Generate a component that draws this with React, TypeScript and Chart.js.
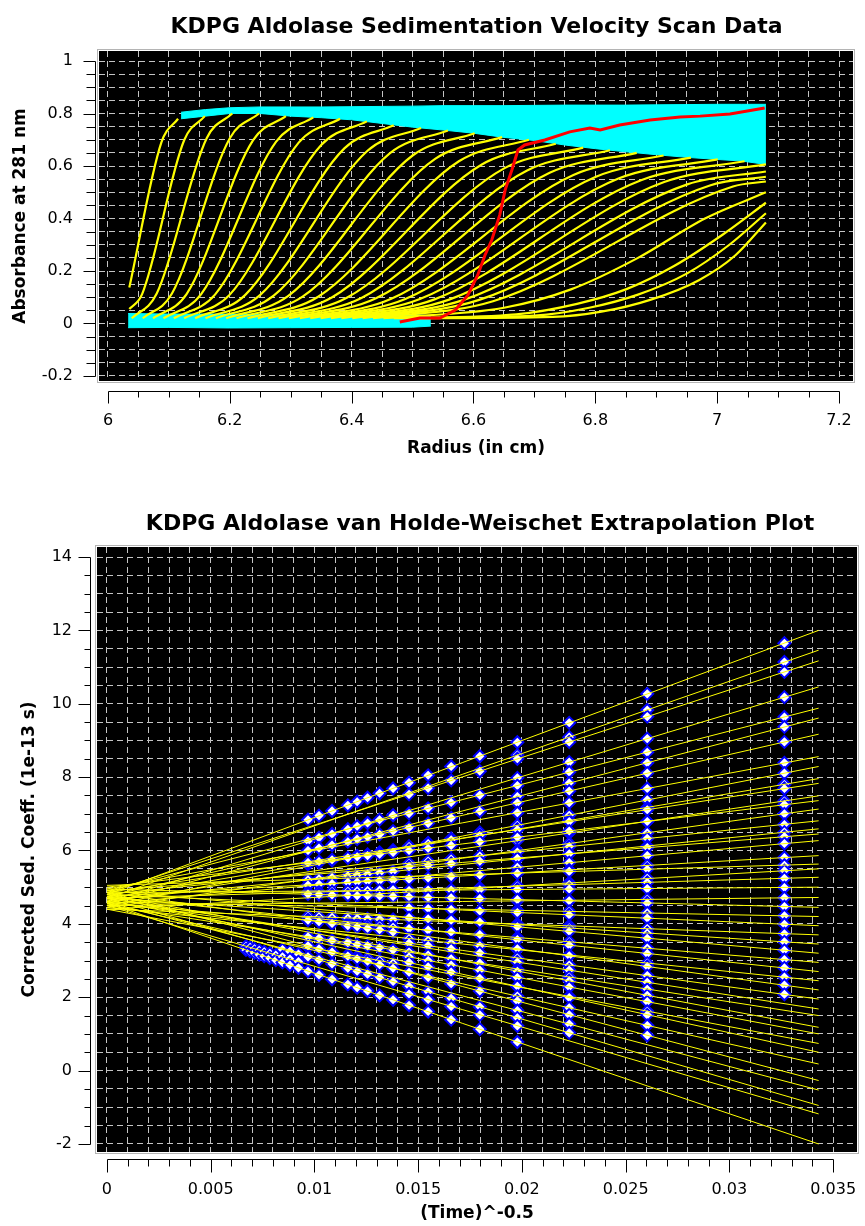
import { useEffect, useRef } from 'react';
import { Chart, registerables } from 'chart.js';

Chart.register(...registerables);

// ---------------- Top chart: sedimentation velocity scans ----------------
const radiusMajorTicks = [6, 6.2, 6.4, 6.6, 6.8, 7, 7.2];
const radiusMajorLabels = ['6', '6.2', '6.4', '6.6', '6.8', '7', '7.2'];
const absorbanceMajorTicks = [-0.2, 0, 0.2, 0.4, 0.6, 0.8, 1];
const absorbanceMajorLabels = ['-0.2', '0', '0.2', '0.4', '0.6', '0.8', '1'];

// each scan: [radius (cm), absorbance] points
const scanProfiles: number[][][] = [
  [[6.035, 0.137], [6.0875, 0.689], [6.115, 0.78]],
  [[6.035, 0.055], [6.056, 0.112], [6.125, 0.698], [6.159, 0.79]],
  [[6.039, 0.02], [6.08, 0.114], [6.162, 0.706], [6.204, 0.8]],
  [[6.057, 0.02], [6.105, 0.114], [6.2, 0.706], [6.248, 0.8]],
  [[6.074, 0.02], [6.129, 0.112], [6.238, 0.698], [6.292, 0.79]],
  [[6.091, 0.02], [6.153, 0.112], [6.276, 0.693], [6.337, 0.785]],
  [[6.108, 0.02], [6.176, 0.111], [6.313, 0.689], [6.381, 0.78]],
  [[6.125, 0.02], [6.2, 0.11], [6.35, 0.68], [6.425, 0.77]],
  [[6.143, 0.02], [6.225, 0.108], [6.388, 0.667], [6.469, 0.755]],
  [[6.16, 0.02], [6.249, 0.107], [6.426, 0.658], [6.514, 0.745]],
  [[6.177, 0.02], [6.272, 0.106], [6.463, 0.649], [6.558, 0.735]],
  [[6.194, 0.02], [6.296, 0.105], [6.5, 0.64], [6.602, 0.725]],
  [[6.211, 0.02], [6.32, 0.103], [6.537, 0.627], [6.647, 0.71]],
  [[6.229, 0.02], [6.345, 0.102], [6.576, 0.618], [6.691, 0.7]],
  [[6.246, 0.02], [6.368, 0.1], [6.613, 0.605], [6.735, 0.685]],
  [[6.263, 0.02], [6.392, 0.098], [6.651, 0.592], [6.78, 0.67]],
  [[6.28, 0.02], [6.416, 0.097], [6.688, 0.583], [6.824, 0.66]],
  [[6.297, 0.02], [6.44, 0.096], [6.725, 0.574], [6.868, 0.65]],
  [[6.315, 0.02], [6.465, 0.094], [6.764, 0.566], [6.912, 0.64]],
  [[6.332, 0.02], [6.488, 0.093], [6.801, 0.559], [6.957, 0.632]],
  [[6.349, 0.02], [6.512, 0.093], [6.838, 0.552], [7.001, 0.625]],
  [[6.366, 0.02], [6.536, 0.092], [6.875, 0.546], [7.045, 0.618]],
  [[6.383, 0.02], [6.56, 0.091], [6.913, 0.539], [7.08, 0.606]],
  [[6.401, 0.02], [6.584, 0.09], [6.951, 0.53], [7.08, 0.579]],
  [[6.418, 0.02], [6.608, 0.089], [6.988, 0.526], [7.08, 0.559]],
  [[6.435, 0.02], [6.632, 0.085], [7.026, 0.522], [7.08, 0.541]],
  [[6.452, 0.02], [6.65, 0.06], [6.76, 0.13], [6.87, 0.25], [6.98, 0.4], [7.08, 0.5]],
  [[6.469, 0.02], [6.67, 0.035], [6.77, 0.075], [6.85, 0.13], [6.93, 0.22], [7.01, 0.34], [7.08, 0.46]],
  [[6.487, 0.02], [6.7, 0.03], [6.79, 0.06], [6.87, 0.11], [6.95, 0.19], [7.02, 0.3], [7.08, 0.42]],
  [[6.504, 0.02], [6.73, 0.025], [6.81, 0.045], [6.89, 0.09], [6.97, 0.165], [7.03, 0.26], [7.08, 0.385]],
];

// excluded plateau data (cyan band at the top)
const plateauBandRadius = [6.12, 6.16, 6.2, 6.25, 6.3, 6.35, 6.4, 6.45, 6.5, 6.55, 6.6, 6.65, 6.7, 6.75, 6.8, 6.85, 6.9, 6.95, 7.0, 7.04, 7.08];
const plateauBandUpper = [0.805, 0.815, 0.822, 0.825, 0.825, 0.825, 0.826, 0.827, 0.828, 0.83, 0.83, 0.83, 0.831, 0.832, 0.832, 0.832, 0.833, 0.834, 0.835, 0.835, 0.835];
const plateauBandLower = [0.78, 0.79, 0.8, 0.8, 0.79, 0.784, 0.776, 0.762, 0.748, 0.737, 0.725, 0.709, 0.697, 0.68, 0.666, 0.654, 0.643, 0.633, 0.625, 0.619, 0.606];

// excluded baseline data (cyan band at the bottom)
const baselineBandRadius = [6.033, 6.1, 6.2, 6.3, 6.4, 6.5, 6.53];
const baselineBandUpper = [0.038, 0.036, 0.036, 0.035, 0.035, 0.034, 0.03];
const baselineBandLower = [-0.016, -0.015, -0.017, -0.016, -0.015, -0.014, -0.01];

// highlighted scan (red)
const highlightRadius = [6.479, 6.512, 6.545, 6.57, 6.591, 6.607, 6.619, 6.63, 6.643, 6.652, 6.663, 6.673, 6.684, 6.717, 6.758, 6.791, 6.808, 6.84, 6.89, 6.939, 6.972, 7.021, 7.078];
const highlightAbsorbance = [0.006, 0.021, 0.021, 0.051, 0.109, 0.185, 0.261, 0.318, 0.413, 0.509, 0.585, 0.661, 0.68, 0.699, 0.73, 0.745, 0.737, 0.756, 0.775, 0.787, 0.79, 0.798, 0.821];

// ---------------- Bottom chart: van Holde-Weischet ----------------
const timeMajorTicks = [0, 0.005, 0.01, 0.015, 0.02, 0.025, 0.03, 0.035];
const timeMajorLabels = ['0', '0.005', '0.01', '0.015', '0.02', '0.025', '0.03', '0.035'];
const sedMajorTicks = [-2, 0, 2, 4, 6, 8, 10, 12, 14];
const sedMajorLabels = ['-2', '0', '2', '4', '6', '8', '10', '12', '14'];

// extrapolation lines: value at x = 0 and at x = fitEndX
const fitEndX = 0.0343;
const fitStartS = [4.8, 4.7, 4.85, 4.6, 4.9, 4.55, 4.75, 4.95, 4.5, 4.7, 4.85, 4.6, 5.0, 4.45, 4.8, 4.65, 4.9, 4.55, 4.75, 5.05, 4.4, 4.7, 4.85, 4.5, 4.95, 4.6, 4.8, 4.4, 4.7, 4.9, 4.55, 4.75, 4.45, 4.85, 4.6, 4.7, 4.5, 4.8, 4.65, 4.4, 4.75, 4.55, 4.85, 4.6, 4.7, 4.5, 4.57];
const fitEndS = [12.0, 11.46, 11.17, 10.46, 9.88, 9.61, 9.17, 8.56, 8.29, 7.96, 7.83, 7.49, 7.36, 7.13, 6.81, 6.59, 6.45, 6.27, 5.86, 5.63, 5.5, 5.27, 5.0, 4.72, 4.45, 4.2, 3.95, 3.7, 3.45, 3.2, 2.95, 2.7, 2.45, 2.2, 1.95, 1.68, 1.5, 1.18, 1.0, 0.74, 0.5, 0.18, -0.27, -0.53, -0.95, -1.18, -2.0];

// scan positions (Time^-0.5) and boundary-fraction sedimentation coefficients
const scanInvSqrtTime = [0.03265, 0.02604, 0.02228, 0.01978, 0.01797, 0.01659, 0.01548, 0.01456, 0.01379, 0.01314, 0.01256, 0.01206, 0.01161, 0.01085, 0.01022, 0.00969, 0.00923, 0.00882, 0.00846, 0.00814, 0.00785, 0.00758, 0.00734, 0.00711, 0.0069, 0.0067];
const scanSedCoeffs: number[][] = [
  [11.65, 11.14, 10.87, 10.18, 9.64, 9.37, 8.96, 8.39, 8.11, 7.8, 7.69, 7.35, 7.25, 7.0, 6.71, 6.5, 6.38, 6.19, 5.81, 5.6, 5.45, 5.24, 4.99, 4.71, 4.47, 4.22, 3.99, 3.73, 3.51, 3.28, 3.03, 2.8, 2.55, 2.33, 2.08],
  [10.27, 9.83, 9.65, 9.05, 8.68, 8.39, 8.11, 7.69, 7.38, 7.17, 7.11, 6.79, 6.79, 6.48, 6.33, 6.12, 6.08, 5.86, 5.59, 5.49, 5.24, 5.13, 4.96, 4.67, 4.57, 4.3, 4.16, 3.87, 3.75, 3.61, 3.34, 3.19, 2.93, 2.84, 2.59, 2.41, 2.22, 2.05, 1.88, 1.62, 1.52, 1.23, 0.96],
  [9.48, 9.09, 8.96, 8.41, 8.14, 7.84, 7.62, 7.3, 6.96, 6.82, 6.79, 6.48, 6.53, 6.19, 6.11, 5.91, 5.91, 5.67, 5.47, 5.43, 5.12, 5.07, 4.95, 4.64, 4.63, 4.34, 4.25, 3.95, 3.89, 3.8, 3.51, 3.42, 3.15, 3.13, 2.88, 2.74, 2.55, 2.45, 2.28, 2.02, 1.99, 1.71, 1.52, 1.27, 1.03],
  [8.95, 8.6, 8.5, 7.98, 7.77, 7.47, 7.3, 7.03, 6.69, 6.58, 6.57, 6.27, 6.36, 6.0, 5.96, 5.77, 5.79, 5.54, 5.39, 5.38, 5.03, 5.03, 4.94, 4.63, 4.66, 4.37, 4.31, 4.0, 3.98, 3.92, 3.63, 3.57, 3.3, 3.32, 3.07, 2.96, 2.77, 2.71, 2.54, 2.29, 2.3, 2.03, 1.9, 1.64, 1.44, 1.22, 0.78],
  [8.57, 8.16, 7.51, 7.07, 6.49, 6.41, 6.24, 5.85, 5.71, 5.33, 4.98, 4.93, 4.69, 4.35, 4.05, 3.71, 3.4, 3.21, 2.93, 2.74, 2.52, 2.17, 1.74, 1.52, 1.13],
  [8.29, 7.91, 7.31, 6.89, 6.33, 6.29, 6.14, 5.77, 5.65, 5.29, 4.93, 4.92, 4.71, 4.39, 4.1, 3.78, 3.48, 3.32, 3.05, 2.88, 2.69, 2.37, 1.97, 1.75, 1.39],
  [8.05, 7.7, 7.15, 6.74, 6.21, 6.19, 6.06, 5.71, 5.6, 5.25, 4.9, 4.92, 4.72, 4.42, 4.14, 3.83, 3.55, 3.41, 3.15, 3.0, 2.83, 2.54, 2.15, 1.94, 1.61],
  [7.85, 7.53, 7.01, 6.62, 6.11, 6.11, 6.0, 5.65, 5.56, 5.22, 4.87, 4.91, 4.74, 4.44, 4.17, 3.87, 3.6, 3.48, 3.23, 3.1, 2.95, 2.68, 2.3, 2.09, 1.78],
  [7.69, 6.96, 6.53, 6.01, 5.95, 5.43, 5.2, 4.93, 4.75, 4.12, 3.91, 3.78, 3.29, 2.93, 2.79, 2.43, 1.93],
  [7.56, 6.84, 6.44, 5.95, 5.9, 5.39, 5.18, 4.92, 4.76, 4.13, 3.94, 3.84, 3.35, 3.0, 2.89, 2.54, 2.05],
  [7.44, 6.75, 6.37, 5.89, 5.86, 5.36, 5.16, 4.91, 4.77, 4.14, 3.96, 3.88, 3.4, 3.06, 2.98, 2.63, 2.17],
  [7.33, 6.66, 6.31, 5.85, 5.83, 5.33, 5.14, 4.9, 4.77, 4.15, 3.99, 3.92, 3.44, 3.11, 3.05, 2.71, 2.26],
  [7.23, 6.58, 6.24, 5.8, 5.8, 5.31, 5.13, 4.89, 4.78, 4.16, 4.01, 3.95, 3.49, 3.16, 3.12, 2.79, 2.35],
  [7.08, 6.45, 6.15, 5.73, 5.75, 5.26, 5.1, 4.88, 4.79, 4.18, 4.04, 4.01, 3.55, 3.24, 3.23, 2.91, 2.49],
  [6.95, 6.35, 6.07, 5.67, 5.7, 5.23, 5.08, 4.87, 4.8, 4.19, 4.07, 4.06, 3.61, 3.31, 3.32, 3.02, 2.61],
  [6.84, 6.26, 6.0, 5.62, 5.67, 5.2, 5.06, 4.86, 4.81, 4.2, 4.1, 4.1, 3.65, 3.36, 3.4, 3.1, 2.71],
  [3.18, 2.97, 2.8],
  [3.25, 3.04, 2.88],
  [3.3, 3.1, 2.95],
  [3.15, 3.01],
  [3.2, 3.07],
  [3.24, 3.12],
  [3.28, 3.16],
  [3.32, 3.21],
  [3.36, 3.25],
  [3.39, 3.29],
];

// ---------------- helpers ----------------
const FONT = "'DejaVu Sans', sans-serif";

function gridValues(start: number, end: number, step: number): number[] {
  const n = Math.round((end - start) / step);
  const out: number[] = [];
  for (let i = 0; i <= n; i++) out.push(+(start + i * step).toFixed(6));
  return out;
}

function labelFor(v: number, majors: number[], labels: string[]): string {
  for (let i = 0; i < majors.length; i++) {
    if (Math.abs(majors[i] - v) < 1e-7) return labels[i];
  }
  return '';
}

const axisDecor = {
  id: 'axisDecor',
  beforeDraw(chart: any) {
    const { ctx, chartArea: a } = chart;
    ctx.save();
    ctx.fillStyle = '#000000';
    ctx.fillRect(a.left, a.top, a.right - a.left, a.bottom - a.top);
    ctx.strokeStyle = '#b4b4b4';
    ctx.lineWidth = 1;
    ctx.strokeRect(Math.round(a.left) - 1.5, Math.round(a.top) - 1.5, Math.round(a.right - a.left) + 3, Math.round(a.bottom - a.top) + 3);
    ctx.restore();
  },
  afterDraw(chart: any, _args: any, opts: any) {
    const { ctx, chartArea: a } = chart;
    const xs = chart.scales.x;
    const ys = chart.scales.y;
    ctx.save();
    // chart heading
    ctx.fillStyle = '#000000';
    ctx.font = `bold 22px ${FONT}`;
    ctx.textAlign = 'center';
    ctx.textBaseline = 'alphabetic';
    ctx.fillText(opts.title, opts.titleX, opts.titleY);
    // detached axis lines with major/minor tick marks
    ctx.strokeStyle = '#000000';
    ctx.lineWidth = 1;
    ctx.beginPath();
    const xt = xs.ticks;
    const yLine = Math.round(a.bottom + opts.xGap) + 0.5;
    const x0 = Math.round(xs.getPixelForValue(xt[0].value)) + 0.5;
    const x1 = Math.round(xs.getPixelForValue(xt[xt.length - 1].value)) + 0.5;
    ctx.moveTo(x0, yLine);
    ctx.lineTo(x1, yLine);
    xt.forEach((t: any) => {
      const px = Math.round(xs.getPixelForValue(t.value)) + 0.5;
      const len = t.label ? opts.xMajor : opts.xMinor;
      ctx.moveTo(px, yLine);
      ctx.lineTo(px, yLine + len);
    });
    const yt = ys.ticks;
    const xLine = Math.round(a.left - opts.yGap) + 0.5;
    const y0 = Math.round(ys.getPixelForValue(yt[0].value)) + 0.5;
    const y1 = Math.round(ys.getPixelForValue(yt[yt.length - 1].value)) + 0.5;
    ctx.moveTo(xLine, y0);
    ctx.lineTo(xLine, y1);
    yt.forEach((t: any) => {
      const py = Math.round(ys.getPixelForValue(t.value)) + 0.5;
      const len = t.label ? opts.yMajor : opts.yMinor;
      ctx.moveTo(xLine, py);
      ctx.lineTo(xLine - len, py);
    });
    ctx.stroke();
    ctx.restore();
  },
};

function axisCommon(gridList: number[], majors: number[], labels: string[], offset: number) {
  return {
    type: 'linear' as const,
    afterBuildTicks: (s: any) => {
      s.ticks = gridList.map((v) => ({ value: v }));
    },
    ticks: {
      autoSkip: false,
      maxRotation: 0,
      minRotation: 0,
      padding: 0,
      color: '#000000',
      font: { family: FONT, size: 16 },
      callback: (v: any) => labelFor(Number(v), majors, labels),
    },
    grid: { color: '#c4c4c4', lineWidth: 1, drawTicks: true, tickLength: offset, tickColor: 'rgba(0,0,0,0)' },
    border: { display: false, dash: [6, 4] },
  };
}

function topConfig(): any {
  const datasets: any[] = [];
  datasets.push({
    data: highlightRadius.map((r, i) => ({ x: r, y: highlightAbsorbance[i] })),
    borderColor: '#ff0000',
    borderWidth: 3,
    pointRadius: 0,
    fill: false,
    order: 0,
  });
  scanProfiles.forEach((scan) => {
    datasets.push({
      data: scan.map((p) => ({ x: p[0], y: p[1] })),
      borderColor: '#ffff00',
      borderWidth: 2.2,
      pointRadius: 0,
      fill: false,
      cubicInterpolationMode: 'monotone',
      order: 1,
    });
  });
  const bands: [number[], number[], number[]][] = [
    [plateauBandRadius, plateauBandUpper, plateauBandLower],
    [baselineBandRadius, baselineBandUpper, baselineBandLower],
  ];
  bands.forEach(([rad, up, lo]) => {
    datasets.push({
      data: rad.map((r, i) => ({ x: r, y: up[i] })),
      borderColor: '#00ffff',
      backgroundColor: '#00ffff',
      borderWidth: 1,
      pointRadius: 0,
      fill: '+1',
      order: 2,
    });
    datasets.push({
      data: rad.map((r, i) => ({ x: r, y: lo[i] })),
      borderColor: '#00ffff',
      borderWidth: 1,
      pointRadius: 0,
      fill: false,
      order: 2,
    });
  });

  const xGrid = gridValues(6, 7.2, 0.05);
  const yGrid = gridValues(-0.2, 1, 0.05);
  return {
    type: 'line',
    data: { datasets },
    options: {
      animation: false,
      responsive: false,
      events: [],
      layout: { padding: { left: 0, right: 12, top: 51, bottom: 0 } },
      elements: { line: { tension: 0 } },
      plugins: {
        legend: { display: false },
        tooltip: { enabled: false },
        title: { display: false },
        axisDecor: {
          title: 'KDPG Aldolase Sedimentation Velocity Scan Data',
          titleX: 476.5,
          titleY: 33,
          xGap: 10,
          yGap: 4,
          xMajor: 12,
          xMinor: 6,
          yMajor: 12,
          yMinor: 9,
        },
      },
      scales: {
        x: {
          ...axisCommon(xGrid, radiusMajorTicks, radiusMajorLabels, 30.5),
          min: 5.98523,
          max: 7.22298,
          afterFit: (s: any) => {
            s.height = 99;
          },
          title: {
            display: true,
            text: 'Radius (in cm)',
            color: '#000000',
            font: { family: FONT, size: 17, weight: 'bold' },
            padding: { top: 0, bottom: 20.8 },
          },
        },
        y: {
          ...axisCommon(yGrid, absorbanceMajorTicks, absorbanceMajorLabels, 26),
          min: -0.21905,
          max: 1.0381,
          afterFit: (s: any) => {
            s.width = 99;
          },
          title: {
            display: true,
            text: 'Absorbance at 281 nm',
            color: '#000000',
            font: { family: FONT, size: 17, weight: 'bold' },
            padding: { top: 10.8, bottom: 0 },
          },
        },
      },
    },
    plugins: [axisDecor],
  };
}

function bottomConfig(): any {
  const datasets: any[] = [];
  fitStartS.forEach((s0, i) => {
    datasets.push({
      data: [
        { x: 0, y: s0 },
        { x: fitEndX, y: fitEndS[i] },
      ],
      borderColor: '#ffff00',
      borderWidth: 1,
      pointRadius: 0,
      fill: false,
      order: 0,
    });
  });
  scanInvSqrtTime.forEach((x, i) => {
    datasets.push({
      data: scanSedCoeffs[i].map((s) => ({ x, y: s })),
      showLine: false,
      pointStyle: 'rectRot',
      pointRadius: 6,
      pointBorderWidth: 2,
      pointBorderColor: '#0000ff',
      pointBackgroundColor: '#ffffff',
      order: 1,
    });
  });
  const xGrid = gridValues(0, 0.035, 0.001);
  const yGrid = gridValues(-2, 14, 0.5);
  return {
    type: 'line',
    data: { datasets },
    options: {
      animation: false,
      responsive: false,
      events: [],
      layout: { padding: { left: 0, right: 3, top: 67, bottom: 0 } },
      elements: { line: { tension: 0 } },
      plugins: {
        legend: { display: false },
        tooltip: { enabled: false },
        title: { display: false },
        axisDecor: {
          title: 'KDPG Aldolase van Holde-Weischet Extrapolation Plot',
          titleX: 480,
          titleY: 50,
          xGap: 7,
          yGap: 7,
          xMajor: 13,
          xMinor: 7,
          yMajor: 12,
          yMinor: 6,
        },
      },
      scales: {
        x: {
          ...axisCommon(xGrid, timeMajorTicks, timeMajorLabels, 28.4),
          min: -0.000479,
          max: 0.036149,
          afterFit: (s: any) => {
            s.height = 74;
          },
          title: {
            display: true,
            text: '(Time)^-0.5',
            color: '#000000',
            font: { family: FONT, size: 17, weight: 'bold' },
            padding: { top: 0, bottom: 2 },
          },
        },
        y: {
          ...axisCommon(yGrid, sedMajorTicks, sedMajorLabels, 25),
          min: -2.2181,
          max: 14.2726,
          afterFit: (s: any) => {
            s.width = 97;
          },
          title: {
            display: true,
            text: 'Corrected Sed. Coeff. (1e-13 s)',
            color: '#000000',
            font: { family: FONT, size: 17, weight: 'bold' },
            padding: { top: 19.8, bottom: 0 },
          },
        },
      },
    },
    plugins: [axisDecor],
  };
}

export default function App() {
  const topRef = useRef<HTMLCanvasElement>(null);
  const bottomRef = useRef<HTMLCanvasElement>(null);
  useEffect(() => {
    const c1 = new Chart(topRef.current as HTMLCanvasElement, topConfig());
    const c2 = new Chart(bottomRef.current as HTMLCanvasElement, bottomConfig());
    return () => {
      c1.destroy();
      c2.destroy();
    };
  }, []);
  return (
    <div style={{ position: 'absolute', left: 0, top: 0, width: 865, height: 1226, background: '#ffffff' }}>
      <canvas ref={topRef} width={865} height={480} style={{ position: 'absolute', left: 0, top: 0, display: 'block' }} />
      <canvas ref={bottomRef} width={865} height={746} style={{ position: 'absolute', left: 0, top: 480, display: 'block' }} />
    </div>
  );
}
